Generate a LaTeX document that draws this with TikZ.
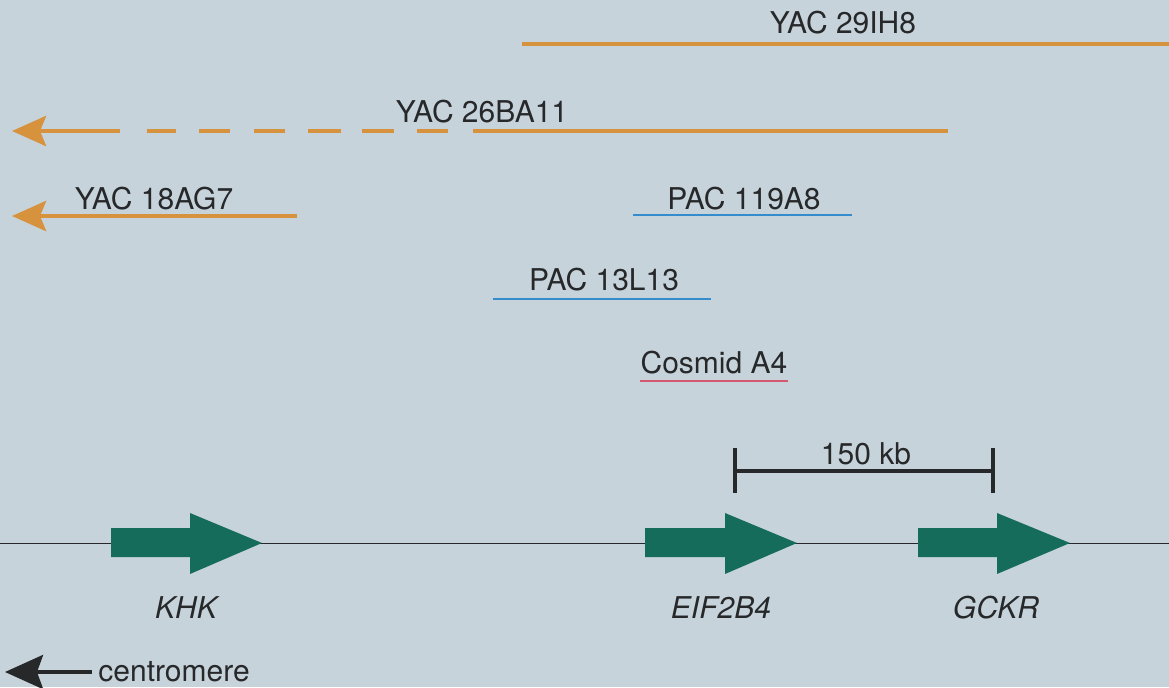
\documentclass[tikz,border=0pt]{standalone}
\usepackage{fontspec}
\setmainfont{TeX Gyre Heros}
\usetikzlibrary{arrows.meta}
\definecolor{paper}{RGB}{199,211,219}
\definecolor{yacorange}{RGB}{214,146,60}
\definecolor{pacblue}{RGB}{52,140,205}
\definecolor{cosred}{RGB}{212,88,110}
\definecolor{genegreen}{RGB}{22,108,90}
\definecolor{ink}{RGB}{38,40,42}

\begin{document}
\begin{tikzpicture}[x=0.5pt,y=-0.5pt,
  yac/.style={draw=yacorange,line width=2.4pt},
  pac/.style={draw=pacblue,line width=1pt},
  cos/.style={draw=cosred,line width=1pt},
  lbl/.style={font=\fontsize{15}{17}\selectfont,text=ink,inner sep=0pt,anchor=base},
  genelbl/.style={lbl,font=\fontsize{15}{17}\selectfont\itshape},
  gene/.style={fill=genegreen,draw=none},
  >={Stealth[length=17pt,width=15pt,inset=3pt]}]
  \fill[paper] (0,0) rectangle (1169,687);
  \useasboundingbox (0,0) rectangle (1169,687);

  % clones
  \coordinate (y29a) at (522,44);
  \coordinate (y29b) at (1169,44);
  \draw[yac] (y29a) -- (y29b);
  \node[lbl] (y29) at (843,33) {YAC 29IH8};

  \coordinate (y26tip) at (12,131);
  \coordinate (y26mid) at (473,131);
  \coordinate (y26end) at (948,131);
  \draw[yac,->] (120,131) -- (y26tip);
  \foreach \a/\b in {147/176,199/230,254/285,308/341,362/394,417/448}
    \draw[yac] (\a,131) -- (\b,131);
  \draw[yac] (y26mid) -- (y26end);
  \node[lbl] (y26) at (482,122) {YAC 26BA11};

  \coordinate (y18tip) at (12,216);
  \coordinate (y18end) at (297,216);
  \draw[yac,->] (y18end) -- (y18tip);
  \node[lbl] (y18) at (154,209) {YAC 18AG7};

  \coordinate (p119a) at (633,215);
  \coordinate (p119b) at (852,215);
  \draw[pac] (p119a) -- (p119b);
  \node[lbl] (p119) at (744,209) {PAC 119A8};

  \coordinate (p13a) at (493,299);
  \coordinate (p13b) at (711,299);
  \draw[pac] (p13a) -- (p13b);
  \node[lbl] (p13) at (604,290) {PAC 13L13};

  \coordinate (cosa) at (640,381);
  \coordinate (cosb) at (788,381);
  \draw[cos] (cosa) -- (cosb);
  \node[lbl] (cosA4) at (714,373) {Cosmid A4};

  % scale bar
  \coordinate (sbl) at (735,471);
  \coordinate (sbr) at (993,471);
  \draw[ink,line width=2pt] (sbl) -- (sbr);
  \draw[ink,line width=2pt] (735,448) -- (735,493) (993,448) -- (993,493);
  \node[lbl] (kb) at (866,464) {150 kb};

  % chromosome and genes
  \coordinate (chrl) at (0,543);
  \coordinate (chrr) at (1169,543);
  \draw[ink,line width=0.5pt] (chrl) -- (chrr);
  \foreach \x/\b/\t/\name/\c in {111/190/262/KHK/186,645/725/797/EIF2B4/721,918/997/1070/GCKR/996}{
    \fill[gene] (\x,528) -- (\b,528) -- (\b,513) -- (\t,543) -- (\b,574) -- (\b,557) -- (\x,557) -- cycle;
    \node[genelbl] (\name) at (\c,618) {\name};
  }

  % centromere
  \coordinate (centip) at (5,672);
  \node[lbl,anchor=base west] (cen) at (98,681) {centromere};
  \draw[ink,line width=2pt,-{Stealth[length=19pt,width=17pt,inset=3pt]}] (cen.west |- centip) ++(-6,0) -- (centip);
\end{tikzpicture}
\end{document}
